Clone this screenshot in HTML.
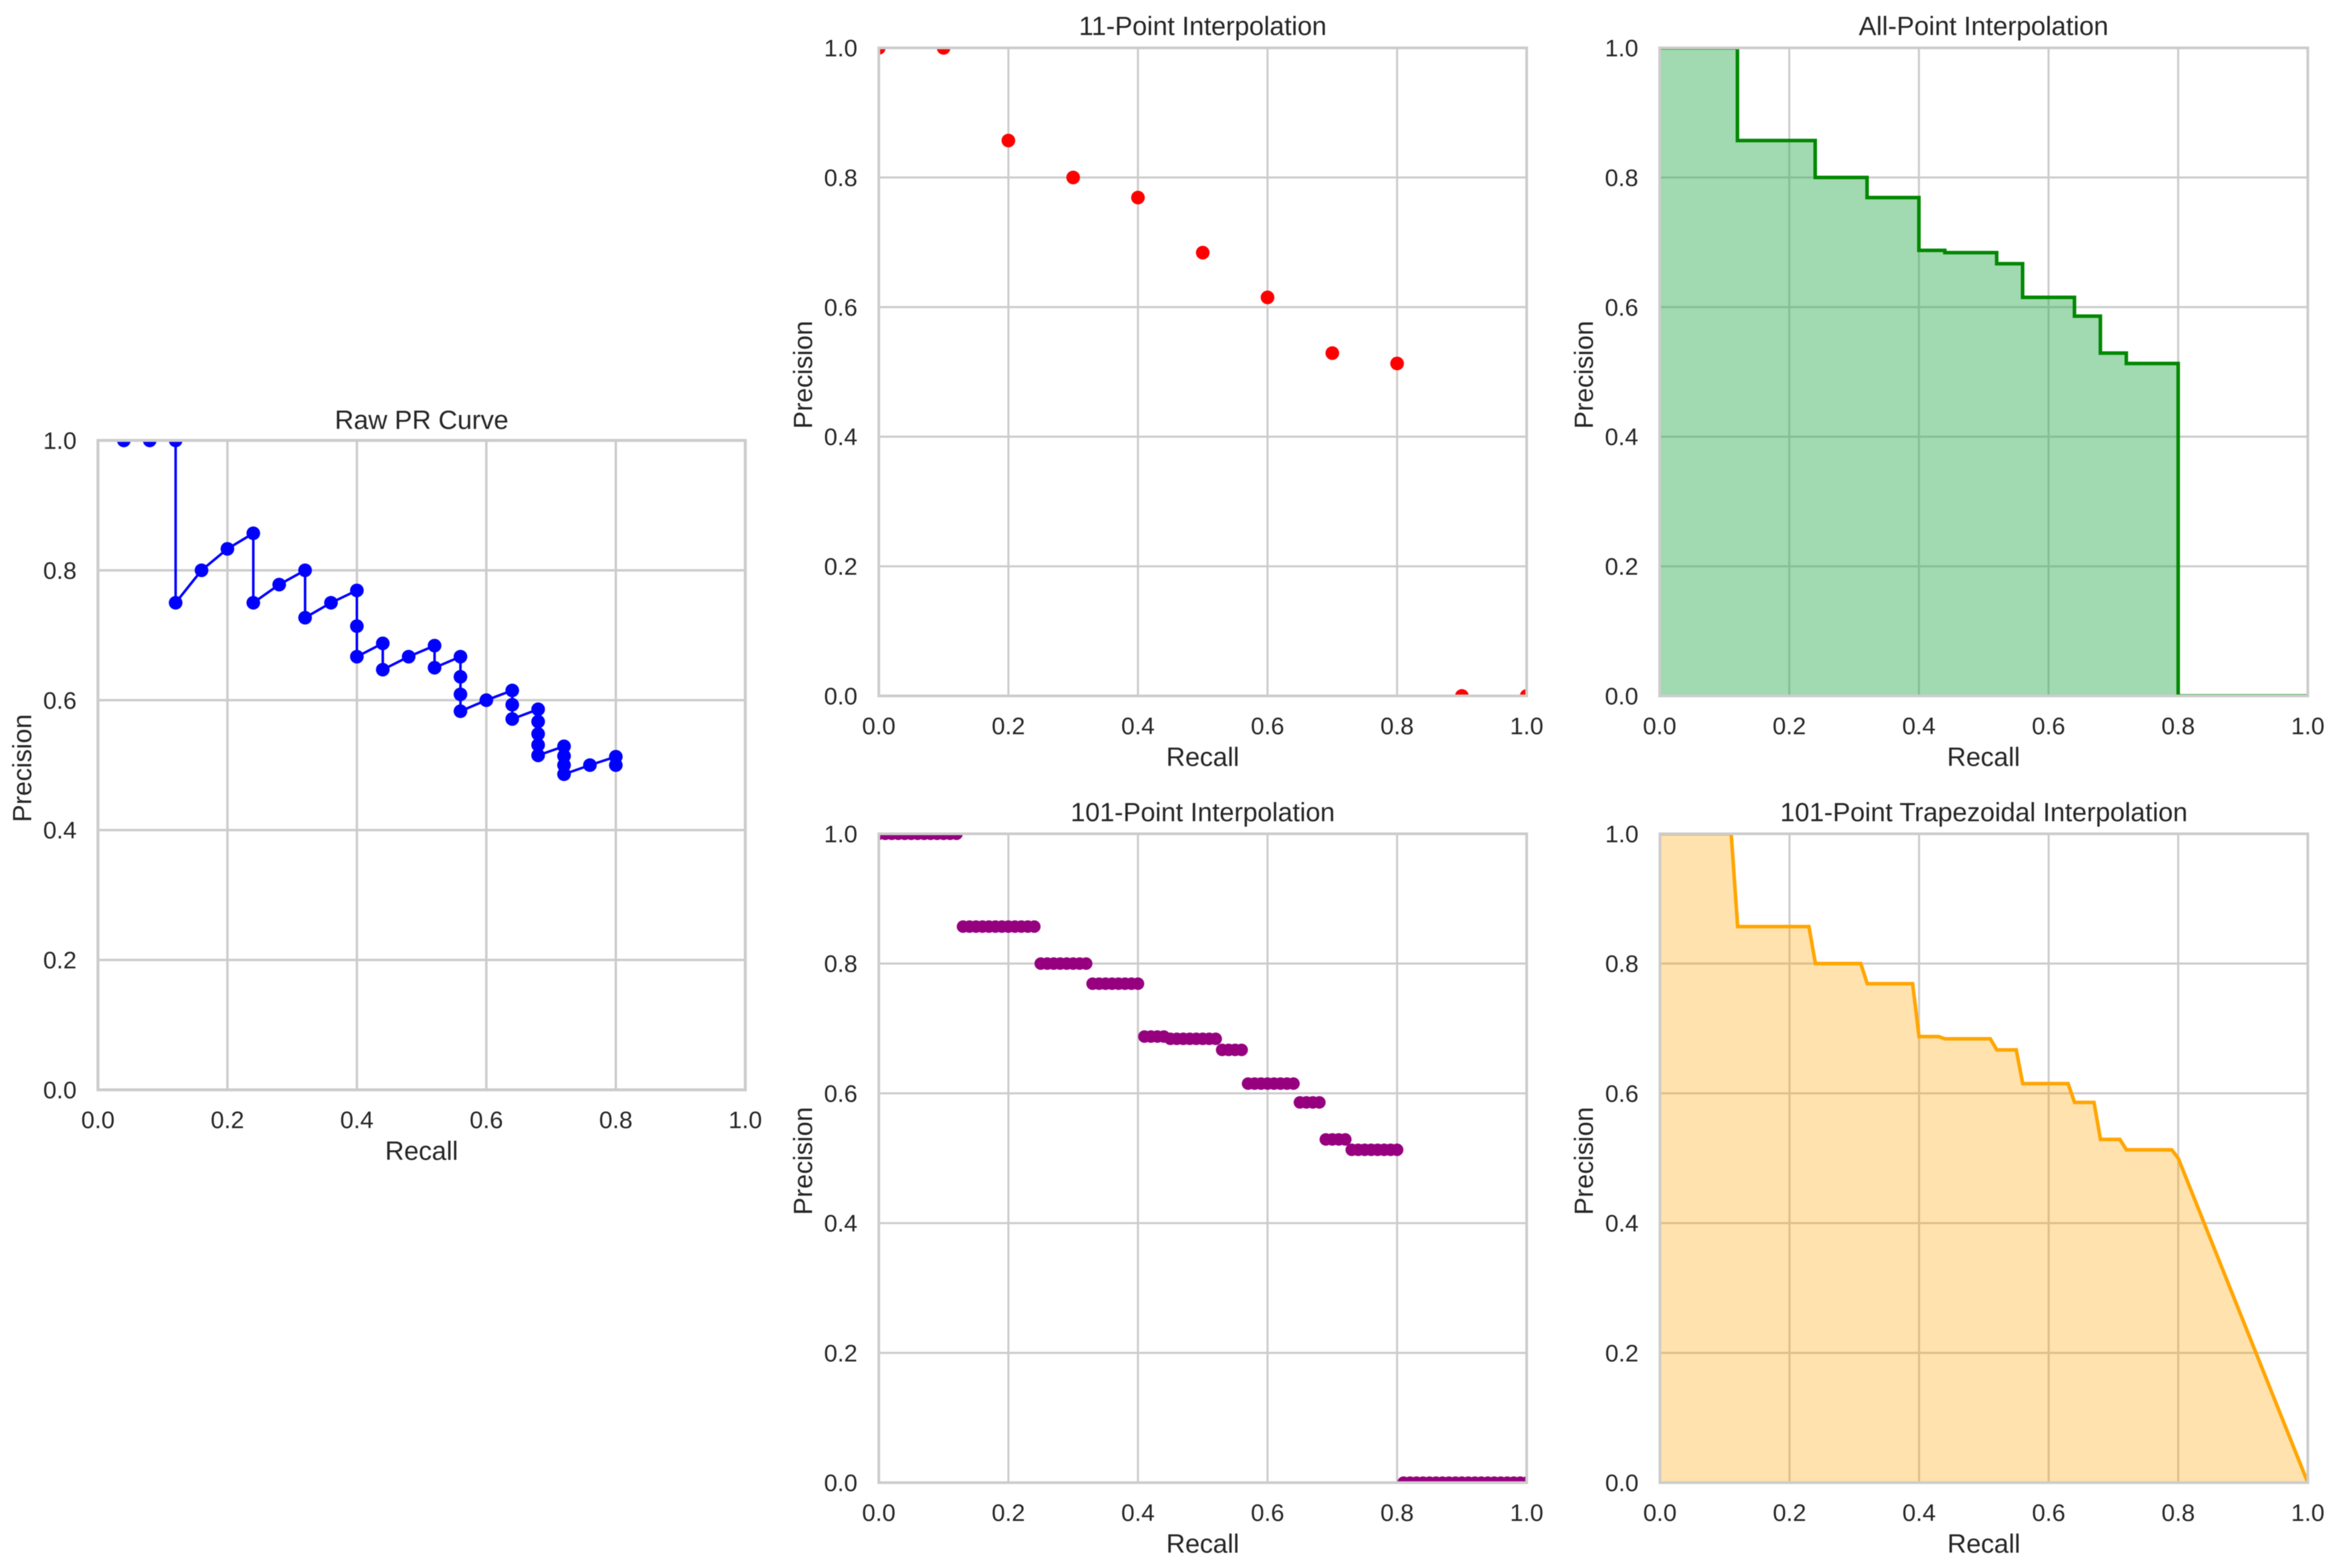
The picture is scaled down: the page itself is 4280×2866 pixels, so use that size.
<!DOCTYPE html>
<html lang="en">
<head>
<meta charset="utf-8">
<title>Precision-Recall Interpolation Comparison</title>
<style>
  html, body { margin: 0; padding: 0; background: #ffffff; }
  #figure { display: block; filter: blur(0.9px); }
  text { font-family: "Liberation Sans", Arial, sans-serif; fill: #262626; }
  .title, .axis-label { font-size: 48px; }
  .tick { font-size: 44px; }
</style>
</head>
<body>
<svg id="figure" xmlns="http://www.w3.org/2000/svg" width="4280" height="2866" viewBox="0 0 4280 2866">
  <rect x="0" y="0" width="4280" height="2866" fill="#ffffff"/>
  <defs>
    <clipPath id="clip-raw"><rect x="179" y="805" width="1183" height="1187"/></clipPath>
    <clipPath id="clip-eleven"><rect x="1606" y="87.5" width="1184" height="1184.5"/></clipPath>
    <clipPath id="clip-all"><rect x="3033" y="87.5" width="1184.5" height="1184.5"/></clipPath>
    <clipPath id="clip-hundred"><rect x="1606" y="1524" width="1184" height="1186"/></clipPath>
    <clipPath id="clip-trap"><rect x="3033.5" y="1524" width="1184" height="1186"/></clipPath>
  </defs>

  <g id="raw">
    <text class="title" x="770.5" y="784" text-anchor="middle">Raw PR Curve</text>
    <text class="axis-label" x="770.5" y="2120" text-anchor="middle">Recall</text>
    <text class="axis-label" transform="translate(57 1404) rotate(-90)" text-anchor="middle">Precision</text>
  </g>
  <g id="eleven">
    <text class="title" x="2208" y="64" text-anchor="middle" transform="translate(-10 0)">11-Point Interpolation</text>
    <text class="axis-label" x="2198" y="1400" text-anchor="middle">Recall</text>
    <text class="axis-label" transform="translate(1484 685) rotate(-90)" text-anchor="middle">Precision</text>
  </g>
  <g id="all">
    <text class="title" x="3625" y="64" text-anchor="middle">All-Point Interpolation</text>
    <text class="axis-label" x="3625" y="1400" text-anchor="middle">Recall</text>
    <text class="axis-label" transform="translate(2911 685) rotate(-90)" text-anchor="middle">Precision</text>
  </g>
  <g id="hundred">
    <text class="title" x="2198" y="1501" text-anchor="middle">101-Point Interpolation</text>
    <text class="axis-label" x="2198" y="2838" text-anchor="middle">Recall</text>
    <text class="axis-label" transform="translate(1484 2122) rotate(-90)" text-anchor="middle">Precision</text>
  </g>
  <g id="trap">
    <text class="title" x="3625.5" y="1501" text-anchor="middle">101-Point Trapezoidal Interpolation</text>
    <text class="axis-label" x="3625.5" y="2838" text-anchor="middle">Recall</text>
    <text class="axis-label" transform="translate(2911 2122) rotate(-90)" text-anchor="middle">Precision</text>
  </g>
</svg>

<script>
const tickValues = [0, 0.2, 0.4, 0.6, 0.8, 1];
const tickLabels = ['0.0', '0.2', '0.4', '0.6', '0.8', '1.0'];

const rawRecall = [0.04, 0.08, 0.12, 0.12, 0.16, 0.2, 0.24, 0.24, 0.28, 0.32, 0.32, 0.36, 0.4, 0.4, 0.4, 0.44, 0.44, 0.48, 0.52, 0.52, 0.56, 0.56, 0.56, 0.56, 0.6, 0.64, 0.64, 0.64, 0.68, 0.68, 0.68, 0.68, 0.68, 0.72, 0.72, 0.72, 0.72, 0.76, 0.8, 0.8];
const rawPrecision = [1, 1, 1, 0.75, 0.8, 0.833, 0.857, 0.75, 0.778, 0.8, 0.727, 0.75, 0.769, 0.714, 0.667, 0.6875, 0.647, 0.667, 0.684, 0.65, 0.667, 0.636, 0.609, 0.583, 0.6, 0.615, 0.593, 0.571, 0.586, 0.567, 0.548, 0.531, 0.515, 0.529, 0.514, 0.5, 0.486, 0.5, 0.513, 0.5];

const elevenRecall = [0, 0.1, 0.2, 0.3, 0.4, 0.5, 0.6, 0.7, 0.8, 0.9, 1];
const elevenPrecision = [1, 1, 0.857, 0.8, 0.769, 0.684, 0.615, 0.529, 0.513, 0, 0];

const allRecall = [0, 0.12, 0.12, 0.24, 0.24, 0.32, 0.32, 0.4, 0.4, 0.44, 0.44, 0.52, 0.52, 0.56, 0.56, 0.64, 0.64, 0.68, 0.68, 0.72, 0.72, 0.8, 0.8, 1];
const allPrecision = [1, 1, 0.857, 0.857, 0.8, 0.8, 0.769, 0.769, 0.6875, 0.6875, 0.684, 0.684, 0.667, 0.667, 0.615, 0.615, 0.586, 0.586, 0.529, 0.529, 0.513, 0.513, 0, 0];

const hundredRecall = [0, 0.01, 0.02, 0.03, 0.04, 0.05, 0.06, 0.07, 0.08, 0.09, 0.1, 0.11, 0.12, 0.13, 0.14, 0.15, 0.16, 0.17, 0.18, 0.19, 0.2, 0.21, 0.22, 0.23, 0.24, 0.25, 0.26, 0.27, 0.28, 0.29, 0.3, 0.31, 0.32, 0.33, 0.34, 0.35, 0.36, 0.37, 0.38, 0.39, 0.4, 0.41, 0.42, 0.43, 0.44, 0.45, 0.46, 0.47, 0.48, 0.49, 0.5, 0.51, 0.52, 0.53, 0.54, 0.55, 0.56, 0.57, 0.58, 0.59, 0.6, 0.61, 0.62, 0.63, 0.64, 0.65, 0.66, 0.67, 0.68, 0.69, 0.7, 0.71, 0.72, 0.73, 0.74, 0.75, 0.76, 0.77, 0.78, 0.79, 0.8, 0.81, 0.82, 0.83, 0.84, 0.85, 0.86, 0.87, 0.88, 0.89, 0.9, 0.91, 0.92, 0.93, 0.94, 0.95, 0.96, 0.97, 0.98, 0.99, 1];
const hundredPrecision = [1, 1, 1, 1, 1, 1, 1, 1, 1, 1, 1, 1, 1, 0.857, 0.857, 0.857, 0.857, 0.857, 0.857, 0.857, 0.857, 0.857, 0.857, 0.857, 0.857, 0.8, 0.8, 0.8, 0.8, 0.8, 0.8, 0.8, 0.8, 0.769, 0.769, 0.769, 0.769, 0.769, 0.769, 0.769, 0.769, 0.6875, 0.6875, 0.6875, 0.6875, 0.684, 0.684, 0.684, 0.684, 0.684, 0.684, 0.684, 0.684, 0.667, 0.667, 0.667, 0.667, 0.615, 0.615, 0.615, 0.615, 0.615, 0.615, 0.615, 0.615, 0.586, 0.586, 0.586, 0.586, 0.529, 0.529, 0.529, 0.529, 0.513, 0.513, 0.513, 0.513, 0.513, 0.513, 0.513, 0.513, 0, 0, 0, 0, 0, 0, 0, 0, 0, 0, 0, 0, 0, 0, 0, 0, 0, 0, 0, 0];

const trapRecall = [0, 0.11, 0.12, 0.23, 0.24, 0.31, 0.32, 0.39, 0.4, 0.43, 0.44, 0.51, 0.52, 0.55, 0.56, 0.63, 0.64, 0.67, 0.68, 0.71, 0.72, 0.79, 0.8, 1];
const trapPrecision = [1, 1, 0.857, 0.857, 0.8, 0.8, 0.769, 0.769, 0.6875, 0.6875, 0.684, 0.684, 0.667, 0.667, 0.615, 0.615, 0.586, 0.586, 0.529, 0.529, 0.513, 0.513, 0.5, 0];

const SVG_NS = 'http://www.w3.org/2000/svg';

function make(tag, attrs, parent) {
  const el = document.createElementNS(SVG_NS, tag);
  for (const key in attrs) el.setAttribute(key, attrs[key]);
  parent.appendChild(el);
  return el;
}

function xAxis(box) {
  return function (value) { return box.left + value * (box.right - box.left); };
}

function yAxis(box) {
  return function (value) { return box.bottom - value * (box.bottom - box.top); };
}

function drawFrame(id, box, gridWidth) {
  const root = document.getElementById(id);
  const x = xAxis(box);
  const y = yAxis(box);
  tickValues.forEach(function (value, i) {
    const vGrid = make('line', { x1: x(value), x2: x(value), y1: box.top, y2: box.bottom, stroke: '#cccccc', 'stroke-width': gridWidth }, root);
    
    
    const hGrid = make('line', { x1: box.left, x2: box.right, y1: y(value), y2: y(value), stroke: '#cccccc', 'stroke-width': gridWidth }, root);
    
    
    const xTick = make('text', { class: 'tick', x: x(value), y: box.bottom + 70, 'text-anchor': 'middle' }, root);
    xTick.textContent = tickLabels[i];
    
    
    const yTick = make('text', { class: 'tick', x: box.left - 39, y: y(value) + 15.5, 'text-anchor': 'end' }, root);
    yTick.textContent = tickLabels[i];
    
    
  });
  return make('g', { 'clip-path': 'url(#clip-' + id + ')' }, root);
}

function drawSpines(id, box, width) {
  const root = document.getElementById(id);
  const spine = make('rect', { x: box.left, y: box.top, width: box.right - box.left, height: box.bottom - box.top, fill: 'none', stroke: '#cccccc', 'stroke-width': width }, root);
  
  
}

function pathFor(box, xs, ys) {
  const x = xAxis(box);
  const y = yAxis(box);
  return xs.map(function (v, i) { return (i ? 'L' : 'M') + x(v).toFixed(2) + ' ' + y(ys[i]).toFixed(2); }).join(' ');
}

function drawLine(layer, box, xs, ys, color, width) {
  const line = make('path', { d: pathFor(box, xs, ys), fill: 'none', stroke: color, 'stroke-width': width, 'stroke-linejoin': 'miter' }, layer);
  
  
}

function drawArea(layer, box, xs, ys, color) {
  const x = xAxis(box);
  const y = yAxis(box);
  const d = pathFor(box, xs, ys) + ' L' + x(xs[xs.length - 1]) + ' ' + y(0) + ' L' + x(xs[0]) + ' ' + y(0) + ' Z';
  const area = make('path', { d: d, fill: color, stroke: 'none' }, layer);
  
  
}

function drawPoints(layer, box, xs, ys, color, radius) {
  const x = xAxis(box);
  const y = yAxis(box);
  xs.forEach(function (v, i) {
    const dot = make('circle', { cx: x(v), cy: y(ys[i]), r: radius, fill: color }, layer);
    
    
  });
}

const rawBox = { left: 179, right: 1362, top: 805, bottom: 1992 };
const elevenBox = { left: 1606, right: 2790, top: 87.5, bottom: 1272 };
const allBox = { left: 3033, right: 4217.5, top: 87.5, bottom: 1272 };
const hundredBox = { left: 1606, right: 2790, top: 1524, bottom: 2710 };
const trapBox = { left: 3033.5, right: 4217.5, top: 1524, bottom: 2710 };

const rawLayer = drawFrame('raw', rawBox, 4.4);
drawLine(rawLayer, rawBox, rawRecall, rawPrecision, '#0000ff', 4.6);
drawPoints(rawLayer, rawBox, rawRecall, rawPrecision, '#0000ff', 12.5);
drawSpines('raw', rawBox, 5.4);

const elevenLayer = drawFrame('eleven', elevenBox, 3.8);
drawPoints(elevenLayer, elevenBox, elevenRecall, elevenPrecision, '#ff0000', 12.5);
drawSpines('eleven', elevenBox, 5);

const allLayer = drawFrame('all', allBox, 3.8);
drawArea(allLayer, allBox, allRecall, allPrecision, 'rgba(55,174,89,0.47)');
drawLine(allLayer, allBox, allRecall, allPrecision, '#008800', 6.5);
drawSpines('all', allBox, 5);

const hundredLayer = drawFrame('hundred', hundredBox, 3.8);
drawPoints(hundredLayer, hundredBox, hundredRecall, hundredPrecision, '#96007f', 11.5);
drawSpines('hundred', hundredBox, 5);

const trapLayer = drawFrame('trap', trapBox, 3.8);
drawArea(trapLayer, trapBox, trapRecall, trapPrecision, 'rgba(255,165,0,0.32)');
drawLine(trapLayer, trapBox, trapRecall, trapPrecision, '#ffa500', 6.5);
drawSpines('trap', trapBox, 5);
</script>
</body>
</html>
